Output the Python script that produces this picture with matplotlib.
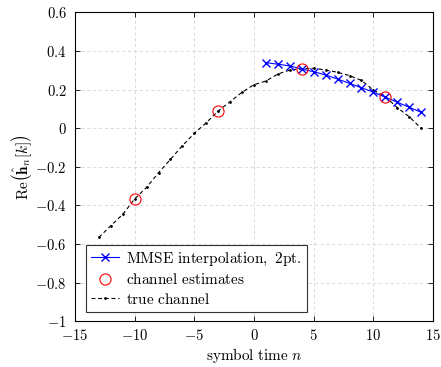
import matplotlib
matplotlib.use("Agg")
import matplotlib.pyplot as plt

# channel data
n_mmse = [1, 2, 3, 4, 5, 6, 7, 8, 9, 10, 11, 12, 13, 14]
h_mmse = [0.340, 0.332, 0.323, 0.307, 0.293, 0.276, 0.255, 0.233, 0.210,
          0.187, 0.161, 0.135, 0.109, 0.083]

n_est = [-10, -3, 4, 11]
h_est = [-0.366, 0.089, 0.308, 0.163]

n_true = list(range(-13, 15))
h_true = [-0.565, -0.505, -0.446, -0.366, -0.306, -0.230, -0.161, -0.090,
          -0.026, 0.029, 0.090, 0.138, 0.187, 0.226, 0.245, 0.281, 0.302,
          0.308, 0.311, 0.302, 0.290, 0.273, 0.248, 0.198, 0.164, 0.107,
          0.060, 0.000]

x_ticks = [-15, -10, -5, 0, 5, 10, 15]
y_ticks = [-1, -0.8, -0.6, -0.4, -0.2, 0, 0.2, 0.4, 0.6]

plt.rcParams['mathtext.fontset'] = 'cm'
plt.rcParams['font.family'] = 'serif'
plt.rcParams['font.serif'] = ['DejaVu Serif']

fig = plt.figure(figsize=(4.41, 3.67), dpi=100)
ax = fig.add_axes([0.170, 0.1245, 0.812, 0.8415])

ax.plot(n_mmse, h_mmse, color='blue', marker='x', markersize=6, linewidth=0.8,
        label=r'$\mathrm{MMSE\ interpolation,\ 2pt.}$', zorder=3)
ax.plot(n_est, h_est, linestyle='none', marker='o', markersize=8,
        markerfacecolor='none', markeredgecolor='red', markeredgewidth=0.8,
        label=r'$\mathrm{channel\ estimates}$', zorder=4)
ax.plot(n_true, h_true, color='black', linestyle=(0, (3.5, 2.5)), marker='.',
        markersize=2, linewidth=0.8, label=r'$\mathrm{true\ channel}$', zorder=2)

ax.set_xlim(-15, 15)
ax.set_ylim(-1, 0.6)
ax.set_xticks(x_ticks)
ax.set_yticks(y_ticks)
ax.set_xticklabels([r'$%g$' % t if t >= 0 else r'$-%g$' % -t for t in x_ticks])
ax.set_yticklabels([r'$%g$' % t if t >= 0 else r'$-%g$' % -t for t in y_ticks])
ax.tick_params(direction='in', top=True, right=True, length=3.5, width=0.6,
               labelsize=10.5)
ax.tick_params(axis='x', pad=5)
ax.tick_params(axis='y', pad=6)
ax.grid(True, color='#d6d6d6', linestyle=(0, (4, 3)), linewidth=0.6)
for s in ax.spines.values():
    s.set_linewidth(0.8)

ax.set_xlabel(r'$\mathrm{symbol\ time}\ n$', fontsize=11, labelpad=2)
ax.set_ylabel(r'$\mathrm{Re}\left(\hat{\mathbf{h}}_n[k]\right)$', fontsize=11,
              labelpad=1)

leg = ax.legend(loc='lower left', bbox_to_anchor=(0.03, 0.03), borderaxespad=0,
                fontsize=11, fancybox=False, edgecolor='#333333', framealpha=1,
                handlelength=1.8, handletextpad=0.5, labelspacing=0.3,
                borderpad=0.35)
leg.get_frame().set_linewidth(0.8)

fig.savefig('out.png', dpi=100)
